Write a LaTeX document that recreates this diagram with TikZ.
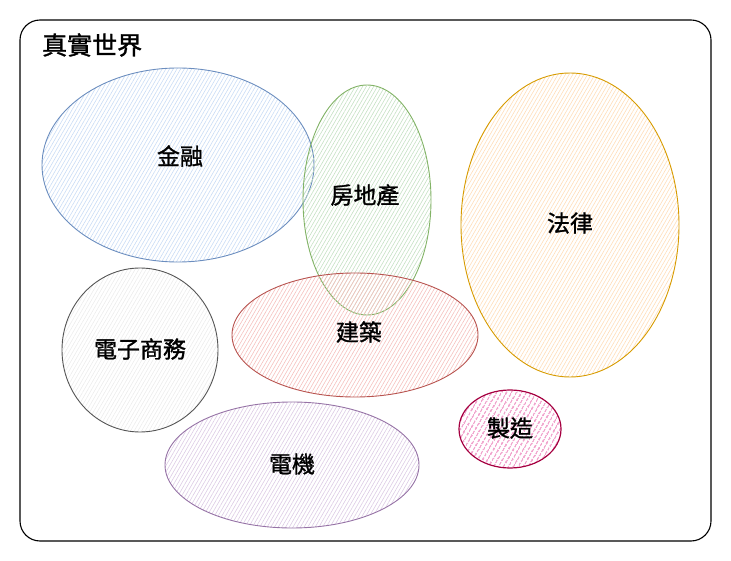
\documentclass[tikz,border=0pt]{standalone}
\usepackage{fontspec}
\setmainfont{Noto Sans CJK TC}[FakeBold=1.3]
\usetikzlibrary{patterns.meta}
\definecolor{blueS}{HTML}{6C8EBF}\definecolor{blueF}{HTML}{C9DCF5}
\definecolor{greenS}{HTML}{82B366}\definecolor{greenF}{HTML}{C5E0C3}
\definecolor{orangeS}{HTML}{D79B00}\definecolor{orangeF}{HTML}{FFDDB8}
\definecolor{redS}{HTML}{B85450}\definecolor{redF}{HTML}{F5C0BD}
\definecolor{purpleS}{HTML}{9673A6}\definecolor{purpleF}{HTML}{DCCBE4}
\definecolor{grayS}{HTML}{555555}
\definecolor{pinkS}{HTML}{A50040}\definecolor{pinkF}{HTML}{D80073}
\tikzset{
  area/.style={draw=#1S, line width=0.9pt,
    pattern={Lines[angle=60,distance=3.2pt,line width=0.6pt]}, pattern color=#1F},
  lbl/.style={font=\fontsize{23}{26}\selectfont, text=black}
}
\begin{document}
\begin{tikzpicture}[x=1pt,y=-1pt]
\useasboundingbox (0,0) rectangle (731,561);
\draw[line width=1.1pt, rounded corners=20pt] (20,20) rectangle (711,541);
\node[anchor=west, lbl, font=\fontsize{25}{28}\selectfont, inner sep=0pt] (title) at (42,45) {真實世界};
\path[area=blue] (178,165) ellipse [x radius=136, y radius=97];
\path[area=orange] (570,225) ellipse [x radius=109, y radius=152];
\path[area=gray, pattern color=gray!15] (140,350) ellipse [x radius=78, y radius=82];
\path[area=purple] (292,465) ellipse [x radius=127, y radius=63];
\path[area=green] (367,200) ellipse [x radius=64, y radius=115];
\path[area=red] (355,335) ellipse [x radius=123, y radius=62];
\path[area=pink, pattern={Lines[angle=60,distance=4pt,line width=0.9pt]}, line width=1.2pt] (510,429) ellipse [x radius=51, y radius=39];
\node[lbl] (jr) at (180,156) {金融};
\node[lbl] (fdc) at (365,195) {房地產};
\node[lbl] (fl) at (570,223) {法律};
\node[lbl] (dz) at (140,349) {電子商務};
\node[lbl] (jz) at (359,332) {建築};
\node[lbl] (dj) at (292,464) {電機};
\node[lbl] (zz) at (510,428) {製造};
\end{tikzpicture}
\end{document}
